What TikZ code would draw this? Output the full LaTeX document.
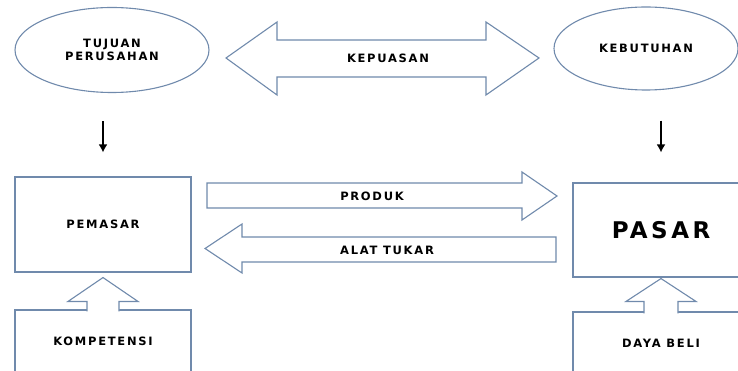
\documentclass[tikz,border=0pt]{standalone}
\usepackage{fontspec}
\newfontfamily\lblfont{DejaVu Sans}[LetterSpace=15]
\usetikzlibrary{arrows.meta, positioning, shapes.geometric, calc}
\definecolor{edgeblue}{RGB}{112,138,172}

\begin{document}
\begin{tikzpicture}[
        x=1pt, y=-1pt,
        >={Latex[length=8pt,width=9pt]},
        txt/.style={font=\lblfont\bfseries\fontsize{11.5}{13}\selectfont, align=center},
        oval/.style={ellipse, draw=edgeblue, line width=1.1pt, minimum height=85pt, txt},
        box/.style={rectangle, draw=edgeblue, line width=1.1pt, minimum width=176pt, txt},
        blockarrow/.style={draw=edgeblue, line width=1.1pt, fill=white, line join=miter},
        downarrow/.style={->, line width=2pt, black}
    ]
        \useasboundingbox (0,0) rectangle (738,371);
        \clip (0,0) rectangle (738,371);

        \node[oval, minimum width=194pt] (tujuan) at (112,50) {TUJUAN\\PERUSAHAN};
        \node[oval, minimum width=184pt, minimum height=83pt] (kebutuhan) at (646,48.5) {KEBUTUHAN};
        \node[box, minimum height=95pt] (pemasar) at (103,224.5) {PEMASAR};
        \node[box, minimum height=94pt, font=\lblfont\bfseries\fontsize{23}{27}\selectfont] (pasar) at (661,230) {PASAR};
        \node[box, minimum height=62pt] (kompetensi) at (103,341) {KOMPETENSI};
        \node[box, minimum height=62pt] (dayabeli) at (661,343) {DAYA BELI};

        % block arrows
        \draw[blockarrow] (226,58) -- (277,22) -- (277,40) -- (486,40) -- (486,22) -- (539,58)
            -- (486,95) -- (486,77) -- (277,77) -- (277,95) -- cycle;
        \draw[blockarrow] (207,183) -- (522,183) -- (522,172) -- (557,196) -- (522,220)
            -- (522,208) -- (207,208) -- cycle;
        \draw[blockarrow] (205,248.5) -- (242,224) -- (242,237) -- (556,237) -- (556,262)
            -- (242,262) -- (242,273) -- cycle;
        \node[txt] (kepuasan) at (388,58) {KEPUASAN};
        \node[txt] (produk) at (372,196) {PRODUK};
        \node[txt] (alattukar) at (387,250) {ALAT TUKAR};

        % up arrows into the boxes
        \draw[blockarrow] ($(kompetensi.north)+(-16,2)$) -- ++(0,-10) -- ++(-19,0)
            -- ($(pemasar.south)+(0,5)$) -- ($(kompetensi.north)+(35,-8)$) -- ++(-19,0) -- ++(0,10);
        \draw[blockarrow] ($(dayabeli.north)+(-17,2)$) -- ++(0,-12) -- ++(-18,0)
            -- ($(pasar.south)+(0,1)$) -- ($(dayabeli.north)+(35,-10)$) -- ++(-18,0) -- ++(0,12);

        % thin arrows
        \draw[downarrow, shorten <=28pt, shorten >=24pt] (tujuan.south -| pemasar.north) -- (pemasar.north);
        \draw[downarrow, shorten <=30pt, shorten >=30pt] (kebutuhan.south -| pasar.north) -- (pasar.north);
    \end{tikzpicture}
\end{document}
